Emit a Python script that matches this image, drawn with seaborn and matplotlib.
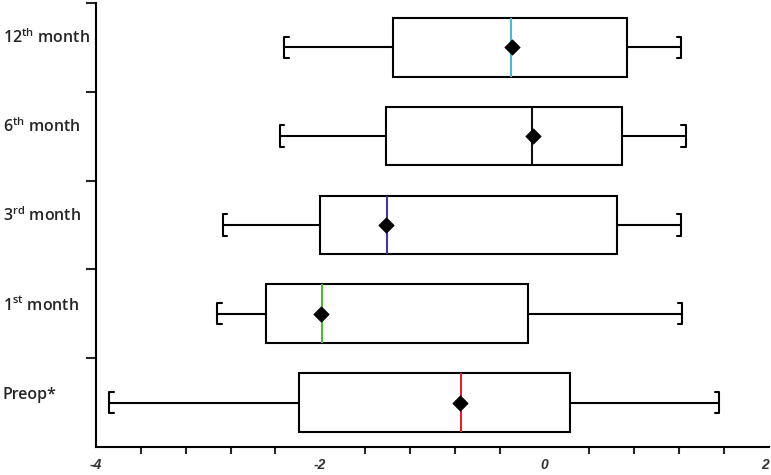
import numpy as np
import pandas as pd
import seaborn as sns
from matplotlib import pyplot as plt
from matplotlib.ticker import MultipleLocator, FixedLocator

# groups, top to bottom
groups = ["12th", "6th", "3rd", "1st", "Preop"]
labels = ["12$^{\\mathregular{th}}$ month", "6$^{\\mathregular{th}}$ month",
          "3$^{\\mathregular{rd}}$ month", "1$^{\\mathregular{st}}$ month", "Preop*"]
# five-number summaries
whis_lo = [-2.32, -2.36, -2.87, -2.92, -3.88]
q1 = [-1.35, -1.41, -2.00, -2.48, -2.19]
med = [-0.30, -0.11, -1.40, -1.98, -0.74]
q3 = [0.74, 0.69, 0.65, -0.15, 0.23]
whis_hi = [1.22, 1.26, 1.22, 1.23, 1.56]
means = [-0.29, -0.10, -1.41, -1.99, -0.75]
median_colors = ["#3fbcd6", "#111111", "#3a3c9a", "#4cbb2c", "#e5222b"]
xticks = [-4, -2, 0, 2]

rows = []
for g, a, b, c, d, e in zip(groups, whis_lo, q1, med, q3, whis_hi):
    for v in (a, b, c, d, e):
        rows.append({"group": g, "value": v})
df = pd.DataFrame(rows)

sns.set_style("white")
plt.rcParams["font.family"] = ["Open Sans", "DejaVu Sans"]
plt.rcParams["mathtext.fontset"] = "custom"
plt.rcParams["mathtext.rm"] = "Open Sans"

fig = plt.figure(figsize=(7.71, 4.75), dpi=100)
ax = fig.add_axes([0.1245, 0.059, 0.8725, 0.935])

sns.boxplot(data=df, x="value", y="group", order=groups, whis=(0, 100),
            width=0.66, color="white", linecolor="black", linewidth=1.5,
            showcaps=False, showfliers=False, ax=ax)

# coloured medians
n_lines_per = len(ax.lines) // len(groups)
for i in range(len(groups)):
    ax.lines[i * n_lines_per + n_lines_per - 1].set_color(median_colors[i])

# bracket-shaped caps
h = 0.12
t = 0.04
for i in range(len(groups)):
    lo, hi = whis_lo[i], whis_hi[i]
    ax.plot([lo + t, lo, lo, lo + t], [i - h, i - h, i + h, i + h], color="black", lw=1.5)
    ax.plot([hi - t, hi, hi, hi - t], [i - h, i - h, i + h, i + h], color="black", lw=1.5)

sns.scatterplot(x=means, y=groups, marker="D", s=60, color="black",
                edgecolor="black", zorder=5, ax=ax)

ax.set_xlim(-4, 2)
ax.set_ylim(4.5, -0.5)
ax.set_xticks(xticks, labels=[str(v) for v in xticks])
ax.xaxis.set_minor_locator(MultipleLocator(0.4))
ax.tick_params(axis="x", which="major", length=6, width=1.5, pad=2, labelsize=10)
ax.tick_params(axis="x", which="minor", length=5, width=1.5, bottom=True)

ax.yaxis.set_major_locator(FixedLocator([-0.5, 0.5, 1.5, 2.5, 3.5]))
ax.yaxis.set_minor_locator(FixedLocator(range(len(groups))))
ax.set_yticklabels([], minor=False)
ax.set_yticklabels(labels, minor=True)
ax.tick_params(axis="y", which="major", length=7, width=1.5, left=True)
ax.tick_params(axis="y", which="minor", length=0, pad=67, labelsize=11.5)

for s in ["top", "right"]:
    ax.spines[s].set_visible(False)
for s in ["left", "bottom"]:
    ax.spines[s].set_linewidth(1.5)
    ax.spines[s].set_color("black")

ax.set_xlabel("")
ax.set_ylabel("")

fig.canvas.draw()
xt = ax.xaxis.get_major_ticks()
for tk in xt:
    lab = tk.label1
    lab.set_fontstyle("italic")
    lab.set_fontweight("bold")
    lab.set_family("Liberation Sans")
    lab.set_color("#333333")
xt[-1].label1.set_horizontalalignment("right")
for tk in ax.yaxis.get_minor_ticks():
    lab = tk.label1
    lab.set_horizontalalignment("left")
    lab.set_fontweight("semibold")
    lab.set_verticalalignment("bottom")

fig.savefig("out.png", dpi=100)
